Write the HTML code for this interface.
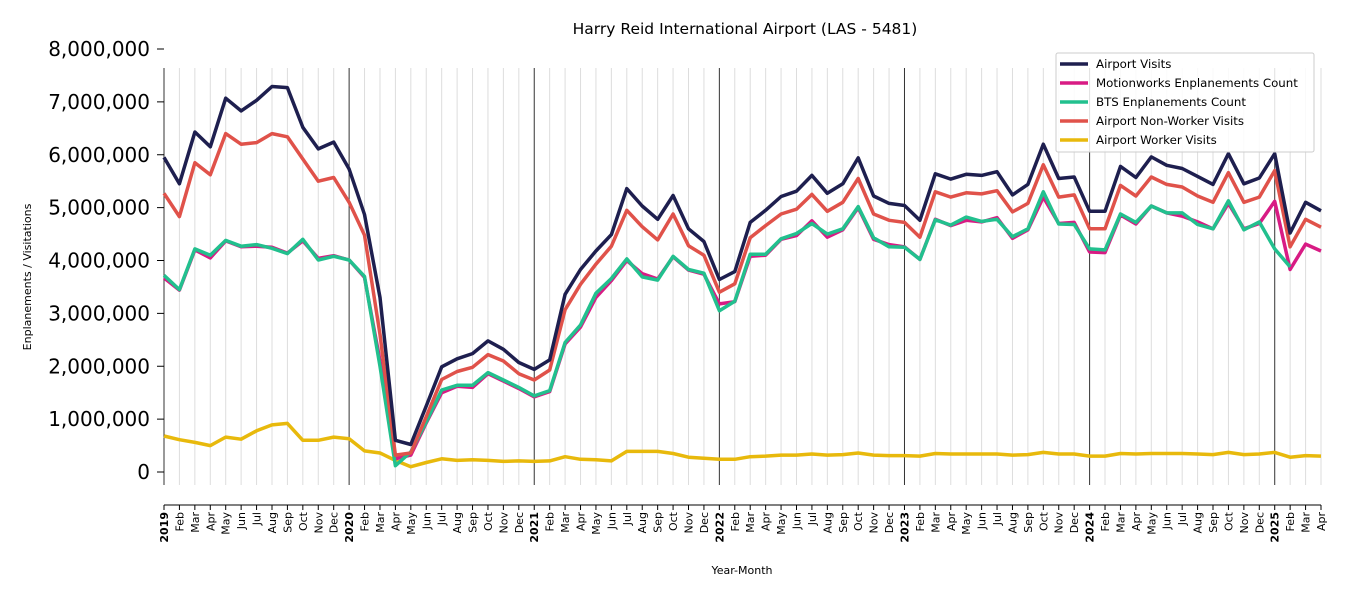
<!DOCTYPE html>
<html><head><meta charset="utf-8"><style>
body{margin:0;background:#fff;font-family:"Liberation Sans","DejaVu Sans",sans-serif;}
svg{display:block;font-family:"DejaVu Sans","Liberation Sans",sans-serif;}
</style></head><body>
<svg id="chart" width="1350" height="600" xmlns="http://www.w3.org/2000/svg">
<text x="745" y="34" text-anchor="middle" font-size="15.5">Harry Reid International Airport (LAS - 5481)</text>
<text transform="translate(31,277) rotate(-90)" text-anchor="middle" font-size="11">Enplanements / Visitations</text>
<text x="742" y="574" text-anchor="middle" font-size="11">Year-Month</text>
<g id="grid"></g>
<g id="yaxis"></g>
<g id="xaxis"></g>
<g id="series"></g>
<g>
<rect x="1056" y="53" width="258" height="99" fill="#fff" fill-opacity="0.85" stroke="#ccc" rx="2"/>
<g><line x1="1060" y1="64" x2="1088" y2="64" stroke="#1e1f4f" stroke-width="3.5"/><text x="1096" y="68" font-size="11.8">Airport Visits</text></g>
<g><line x1="1060" y1="83" x2="1088" y2="83" stroke="#d81b84" stroke-width="3.5"/><text x="1096" y="87" font-size="11.8">Motionworks Enplanements Count</text></g>
<g><line x1="1060" y1="102" x2="1088" y2="102" stroke="#22c08e" stroke-width="3.5"/><text x="1096" y="106" font-size="11.8">BTS Enplanements Count</text></g>
<g><line x1="1060" y1="121" x2="1088" y2="121" stroke="#e0524a" stroke-width="3.5"/><text x="1096" y="125" font-size="11.8">Airport Non-Worker Visits</text></g>
<g><line x1="1060" y1="140" x2="1088" y2="140" stroke="#e8b90c" stroke-width="3.5"/><text x="1096" y="144" font-size="11.8">Airport Worker Visits</text></g>
</g>
</svg>
<script>
const monthNames=["Jan","Feb","Mar","Apr","May","Jun","Jul","Aug","Sep","Oct","Nov","Dec"];
const startYear=2019;
const monthCount=76;
const yTicks=[0,1000000,2000000,3000000,4000000,5000000,6000000,7000000,8000000];
const airportVisits=[5.95,5.45,6.43,6.15,7.07,6.83,7.03,7.29,7.27,6.52,6.11,6.24,
5.73,4.87,3.3,0.6,0.52,1.25,1.99,2.14,2.24,2.48,2.32,2.07,
1.94,2.12,3.36,3.83,4.18,4.49,5.36,5.03,4.78,5.23,4.6,4.36,
3.64,3.79,4.72,4.95,5.21,5.31,5.61,5.27,5.45,5.94,5.22,5.08,
5.04,4.76,5.64,5.54,5.63,5.61,5.68,5.24,5.44,6.2,5.55,5.58,
4.93,4.93,5.78,5.57,5.96,5.8,5.74,5.59,5.44,6.02,5.45,5.56,
6.02,4.52,5.1,4.94];
const nonWorkerVisits=[5.27,4.83,5.85,5.62,6.4,6.2,6.23,6.4,6.34,5.92,5.5,5.57,
5.1,4.48,2.6,0.32,0.36,1.05,1.75,1.9,1.98,2.22,2.1,1.86,
1.74,1.93,3.07,3.55,3.93,4.27,4.95,4.64,4.39,4.88,4.28,4.1,
3.4,3.56,4.43,4.66,4.88,4.97,5.25,4.93,5.1,5.55,4.88,4.76,
4.72,4.44,5.3,5.2,5.28,5.26,5.32,4.92,5.08,5.81,5.2,5.24,
4.6,4.6,5.42,5.22,5.58,5.44,5.39,5.22,5.1,5.66,5.1,5.2,
5.7,4.26,4.78,4.63];
const motionworks=[3.67,3.44,4.2,4.05,4.37,4.26,4.27,4.25,4.14,4.37,4.04,4.09,
4.01,3.68,2.1,0.25,0.32,0.93,1.5,1.62,1.6,1.86,1.72,1.58,
1.42,1.52,2.42,2.74,3.3,3.62,4.0,3.75,3.65,4.07,3.82,3.74,
3.18,3.22,4.08,4.1,4.4,4.47,4.75,4.44,4.58,5.0,4.4,4.3,
4.26,4.02,4.78,4.66,4.76,4.73,4.81,4.42,4.58,5.2,4.7,4.72,
4.16,4.15,4.86,4.69,5.03,4.9,4.84,4.73,4.6,5.08,4.6,4.7,
5.12,3.83,4.31,4.18];
const btsEnplanements=[3.72,3.45,4.22,4.1,4.38,4.27,4.3,4.23,4.13,4.4,4.01,4.08,
4.01,3.7,2.0,0.12,0.38,0.95,1.55,1.64,1.64,1.88,1.74,1.6,
1.44,1.54,2.45,2.78,3.38,3.66,4.03,3.69,3.63,4.08,3.83,3.76,
3.05,3.23,4.12,4.12,4.41,4.51,4.7,4.5,4.6,5.02,4.43,4.26,
4.25,4.02,4.77,4.67,4.82,4.74,4.78,4.45,4.6,5.3,4.69,4.68,
4.22,4.2,4.88,4.72,5.03,4.9,4.9,4.68,4.6,5.13,4.58,4.73,
4.22,3.88];
const workerVisits=[0.68,0.61,0.56,0.5,0.66,0.62,0.78,0.89,0.92,0.6,0.6,0.66,
0.63,0.4,0.36,0.22,0.1,0.18,0.25,0.22,0.23,0.22,0.2,0.21,
0.2,0.21,0.29,0.24,0.23,0.21,0.39,0.39,0.39,0.35,0.28,0.26,
0.24,0.24,0.29,0.3,0.32,0.32,0.34,0.32,0.33,0.36,0.32,0.31,
0.31,0.3,0.35,0.34,0.34,0.34,0.34,0.32,0.33,0.37,0.34,0.34,
0.3,0.3,0.35,0.34,0.35,0.35,0.35,0.34,0.33,0.37,0.33,0.34,
0.37,0.28,0.31,0.3];

const NS="http://www.w3.org/2000/svg";
const X0=164,X1=1321,Y0=472,Y8=49;
const xAt=i=>X0+(X1-X0)*i/(monthCount-1);
const yAt=v=>Y0-(Y0-Y8)*v/8000000;
function mk(tag,attrs,parent){const e=document.createElementNS(NS,tag);for(const k in attrs)e.setAttribute(k,attrs[k]);parent.appendChild(e);return e;}
const grid=document.getElementById('grid'),xa=document.getElementById('xaxis'),ya=document.getElementById('yaxis'),ser=document.getElementById('series');
for(let i=0;i<monthCount;i++){
  const x=xAt(i),isYear=i%12===0;
  const g=mk('line',{x1:x,x2:x,y1:68,y2:485,stroke:isYear?'#333':'#ddd','stroke-width':1},grid);
  
  
  const t=mk('line',{x1:x,x2:x,y1:505,y2:510,stroke:'#000'},xa);
  
  
  const lab=mk('text',{transform:`translate(${x+4},512) rotate(-90)`,'text-anchor':'end','font-size':'11','font-weight':isYear?'bold':'normal'},xa);
  lab.textContent=isYear?String(startYear+i/12):monthNames[i%12];
  
  
}
const ax=mk('line',{x1:X0,x2:X1,y1:505,y2:505,stroke:'#000'},xa);


yTicks.forEach(v=>{
  const y=yAt(v);
  const t=mk('line',{x1:157,x2:164,y1:y,y2:y,stroke:'#000'},ya);
  
  
  const l=mk('text',{x:150,y:y+7,'text-anchor':'end','font-size':'20'},ya);
  l.textContent=v.toLocaleString('en-US');
  
  
});
function line(vals,color,name,scale){
  const pts=vals.map((v,i)=>xAt(i).toFixed(1)+','+yAt(v*scale).toFixed(1)).join(' ');
  const p=mk('polyline',{points:pts,fill:'none',stroke:color,'stroke-width':3.5,'stroke-linejoin':'round'},ser);
  
  
}
line(workerVisits,'#e8b90c','worker-visits-line',1e6);
line(motionworks,'#d81b84','motionworks-line',1e6);
line(btsEnplanements,'#22c08e','bts-line',1e6);
line(nonWorkerVisits,'#e0524a','non-worker-visits-line',1e6);
line(airportVisits,'#1e1f4f','airport-visits-line',1e6);
</script>
</body></html>
